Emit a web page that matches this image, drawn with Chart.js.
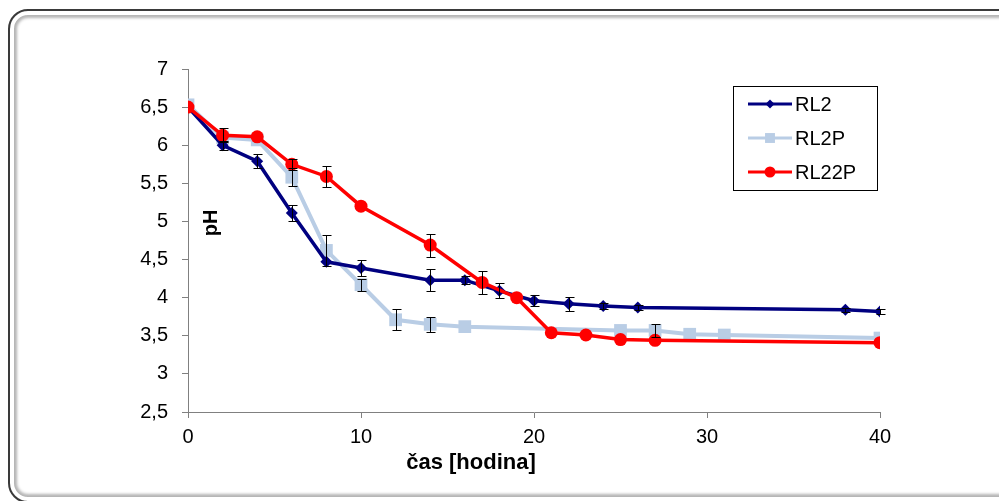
<!DOCTYPE html>
<html>
<head>
<meta charset="utf-8">
<script src="https://cdn.jsdelivr.net/npm/chart.js@4.4.1/dist/chart.umd.min.js"></script>
<style>
html, body { margin: 0; padding: 0; background: #fff; overflow: hidden; }
#frame {
  position: absolute; left: 8px; top: 9px; width: 1020px; height: 494px;
  box-sizing: border-box; border: 2px solid #3a3a3a; border-radius: 20px;
  box-shadow: inset 0 0 0 4px #fff, inset 0 0 3px 7px #b4b4b4;
}
#wrap { position: absolute; left: 0; top: 0; width: 999px; height: 501px; }
</style>
</head>
<body>
<div id="frame"></div>
<div id="wrap"><canvas id="myChart" width="999" height="501"></canvas></div>
<script>
let names = ['RL2', 'RL2P', 'RL22P'];
let colorHex = ['#000080', '#B9CDE5', '#FF0000'];

let rl2X = [0, 2, 4, 6, 8, 10, 14, 16, 18, 20, 22, 24, 26, 38, 40];
let rl2Y = [6.5, 6.0, 5.79, 5.11, 4.47, 4.39, 4.23, 4.23, 4.09, 3.96, 3.92, 3.89, 3.87, 3.84, 3.82];
let rl2Err = [0, 0.06, 0.09, 0.1, 0, 0.1, 0.14, 0.05, 0.1, 0.07, 0.09, 0.04, 0.03, 0.03, 0.03];

let rl2pX = [0, 2, 4, 6, 8, 10, 12, 14, 16, 25, 27, 29, 31, 40];
let rl2pY = [6.53, 6.1, 6.07, 5.58, 4.62, 4.17, 3.71, 3.65, 3.62, 3.57, 3.57, 3.52, 3.51, 3.47];
let rl2pErr = [0, 0, 0, 0.12, 0.2, 0.08, 0.14, 0.1, 0, 0, 0.08, 0, 0, 0];

let rl22pX = [0, 2, 4, 6, 8, 10, 14, 17, 19, 21, 23, 25, 27, 40];
let rl22pY = [6.5, 6.13, 6.11, 5.75, 5.59, 5.2, 4.69, 4.2, 4.0, 3.54, 3.51, 3.45, 3.44, 3.41];
let rl22pErr = [0, 0.09, 0, 0.07, 0.14, 0, 0.15, 0.15, 0, 0, 0, 0, 0, 0];

let xTitle = 'čas [hodina]';
let yTitle = 'pH';

let fontFam = '"Liberation Sans", Arial, sans-serif';

function pts(xs, ys) {
  return xs.map((x, i) => ({ x: x, y: ys[i] }));
}

// error bars drawn with the chart's own scales
let errorBars = {
  id: 'errorBars',
  afterDatasetsDraw(chart) {
    let c = chart.ctx;
    let xs = chart.scales.x, ys = chart.scales.y;
    c.save();
    c.strokeStyle = '#000';
    c.lineWidth = 1;
    chart.data.datasets.forEach((ds) => {
      ds.data.forEach((p, i) => {
        let e = ds.errors[i];
        if (!e) return;
        let px = Math.round(xs.getPixelForValue(p.x)) + 0.5;
        let t = Math.round(ys.getPixelForValue(p.y + e)) + 0.5;
        let b = Math.round(ys.getPixelForValue(p.y - e)) + 0.5;
        c.beginPath();
        c.moveTo(px, t); c.lineTo(px, b);
        c.moveTo(px - 4, t); c.lineTo(px + 5, t);
        c.moveTo(px - 4, b); c.lineTo(px + 5, b);
        c.stroke();
      });
    });
    c.restore();
  }
};

// legend box inside plot + axis titles placed like the original
let boxLegend = {
  id: 'boxLegend',
  afterDraw(chart) {
    let c = chart.ctx;
    let a = chart.chartArea;
    let bx = a.right - 147, by = a.top + 17, bw = 144, bh = 104;
    let legendRadius = [4.5, 7, 5.5];
    c.save();
    c.fillStyle = '#fff';
    c.fillRect(bx, by, bw, bh);
    c.strokeStyle = '#000';
    c.lineWidth = 1;
    c.strokeRect(bx + 0.5, by + 0.5, bw, bh);
    chart.data.datasets.forEach((d, i) => {
      let cy = by + 18 + i * 34;
      c.strokeStyle = d.borderColor;
      c.lineWidth = 3;
      c.beginPath();
      c.moveTo(bx + 15, cy); c.lineTo(bx + 59, cy);
      c.stroke();
      c.fillStyle = d.backgroundColor;
      Chart.helpers.drawPoint(c, {
        pointStyle: d.pointStyle, radius: legendRadius[i], borderWidth: 0
      }, bx + 37, cy);
      c.fillStyle = '#000';
      c.font = '20px ' + fontFam;
      c.textBaseline = 'middle';
      c.textAlign = 'left';
      c.fillText(d.label, bx + 62, cy + 1);
    });
    // x title
    c.font = 'bold 22px ' + fontFam;
    c.textAlign = 'center';
    c.textBaseline = 'middle';
    c.fillText(xTitle, a.left + 283, a.bottom + 51);
    // y title sits inside the plot
    c.translate(a.left + 23, a.top + 154);
    c.rotate(-Math.PI / 2);
    c.font = 'bold 20px ' + fontFam;
    c.fillText(yTitle, 0, 0);
    c.restore();
  }
};

let ctx = document.getElementById('myChart').getContext('2d');

let myChart = new Chart(ctx, {
  type: 'line',
  data: {
    datasets: [
      {
        label: names[0], data: pts(rl2X, rl2Y), errors: rl2Err,
        borderColor: colorHex[0], backgroundColor: colorHex[0],
        borderWidth: 3.5, pointStyle: 'rectRot', pointRadius: 6,
        pointBorderWidth: 0, order: 1
      },
      {
        label: names[1], data: pts(rl2pX, rl2pY), errors: rl2pErr,
        borderColor: colorHex[1], backgroundColor: colorHex[1],
        borderWidth: 4, pointStyle: 'rect', pointRadius: 9,
        pointBorderWidth: 0, order: 2
      },
      {
        label: names[2], data: pts(rl22pX, rl22pY), errors: rl22pErr,
        borderColor: colorHex[2], backgroundColor: colorHex[2],
        borderWidth: 3.5, pointStyle: 'circle', pointRadius: 6.5,
        pointBorderWidth: 0, order: 0
      }
    ]
  },
  options: {
    responsive: false,
    animation: false,
    layout: { padding: { left: 0, top: 69, right: 119, bottom: 26 } },
    plugins: {
      legend: { display: false },
      tooltip: { enabled: false }
    },
    scales: {
      x: {
        type: 'linear', min: 0, max: 40,
        ticks: {
          stepSize: 10, color: '#000', padding: 7,
          font: { family: fontFam, size: 20 }
        },
        grid: { drawOnChartArea: false, tickLength: 6, color: '#808080' },
        border: { color: '#808080', width: 1 },
        afterFit: (s) => { s.height = 63; }
      },
      y: {
        min: 2.5, max: 7,
        ticks: {
          stepSize: 0.5, color: '#000', padding: 14,
          font: { family: fontFam, size: 20 },
          callback: (v) => String(v).replace('.', ',')
        },
        grid: { drawOnChartArea: false, tickLength: 6, color: '#808080' },
        border: { color: '#808080', width: 1 },
        afterFit: (s) => { s.width = 188; }
      }
    }
  },
  plugins: [errorBars, boxLegend]
});
</script>
</body>
</html>
